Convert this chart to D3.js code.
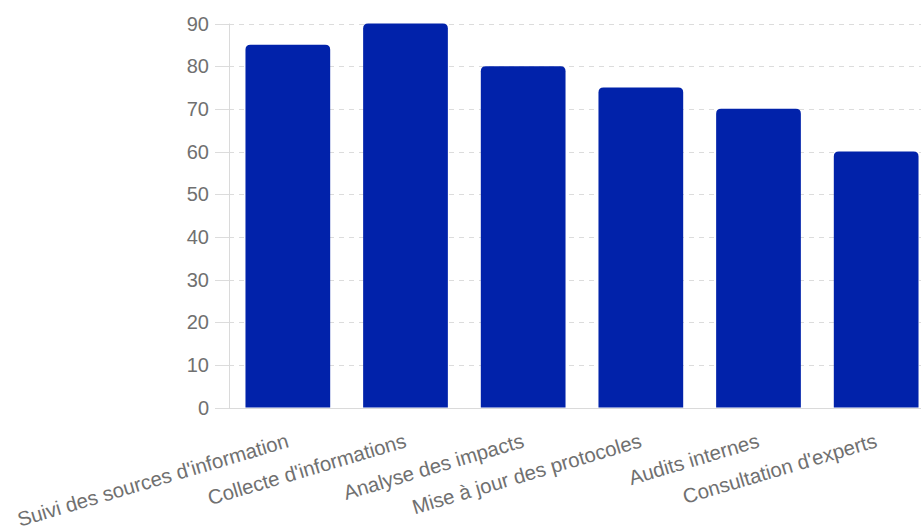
<!DOCTYPE html>
<html>
<head>
<meta charset="utf-8">
<script src="https://cdn.jsdelivr.net/npm/d3@7"></script>
<style>
  html, body { margin: 0; padding: 0; background: #fff; overflow: hidden; }
  svg { display: block; font-family: "Liberation Sans", Arial, Helvetica, sans-serif; }
</style>
</head>
<body>
<svg id="chart" width="921" height="530"></svg>
<script>
const categories = [
  "Suivi des sources d'information",
  "Collecte d'informations",
  "Analyse des impacts",
  "Mise à jour des protocoles",
  "Audits internes",
  "Consultation d'experts"
];
const values = [85, 90, 80, 75, 70, 60];
const yTicks = [0, 10, 20, 30, 40, 50, 60, 70, 80, 90];

const svg = d3.select("#chart");
const mLeft = 229, mRight = 935, mTop = 23.5, mBottom = 407.5;

const x = d3.scaleBand().domain(categories).range([mLeft, mRight]).paddingInner(0).paddingOuter(0);
const y = d3.scaleLinear().domain([0, 90]).range([mBottom, mTop]);

// grid lines (dashed)
svg.append("g").selectAll("line").data(yTicks.filter(d => d !== 0)).join("line")
  .attr("x1", mLeft).attr("x2", 921)
  .attr("y1", d => Math.round(y(d)) + 0.5).attr("y2", d => Math.round(y(d)) + 0.5)
  .attr("stroke", "#dcdcdc").attr("stroke-width", 1).attr("stroke-dasharray", "5,5");

// tick marks (solid)
svg.append("g").selectAll("line").data(yTicks).join("line")
  .attr("x1", 215).attr("x2", mLeft)
  .attr("y1", d => Math.round(y(d)) + 0.5).attr("y2", d => Math.round(y(d)) + 0.5)
  .attr("stroke", "#dcdcdc").attr("stroke-width", 1);

// axis lines
svg.append("line").attr("x1", mLeft + 0.5).attr("x2", mLeft + 0.5)
  .attr("y1", mTop).attr("y2", mBottom + 0.5).attr("stroke", "#dadada");
svg.append("line").attr("x1", mLeft).attr("x2", 921)
  .attr("y1", Math.round(mBottom) + 0.5).attr("y2", Math.round(mBottom) + 0.5).attr("stroke", "#dadada");

// y tick labels
svg.append("g").selectAll("text").data(yTicks).join("text")
  .attr("x", 209).attr("y", d => y(d))
  .attr("dy", "0.35em")
  .attr("text-anchor", "end")
  .attr("fill", "#707070")
  .attr("font-size", 20)
  .text(d => d);

// bars with rounded top corners
const bw = x.bandwidth() * 0.72;
const r = 5;
svg.append("g").selectAll("path").data(categories).join("path")
  .attr("d", (c, i) => {
    const cx = x(c) + x.bandwidth() / 2;
    const x0 = cx - bw / 2, x1 = cx + bw / 2;
    const y0 = y(values[i]), y1 = y(0);
    return `M${x0},${y1} L${x0},${y0 + r} Q${x0},${y0} ${x0 + r},${y0} L${x1 - r},${y0} Q${x1},${y0} ${x1},${y0 + r} L${x1},${y1} Z`;
  })
  .attr("fill", "#0122AA");

// x labels rotated
svg.append("g").selectAll("text").data(categories).join("text")
  .attr("transform", c => `translate(${x(c) + x.bandwidth() / 2},${440}) rotate(-16.5)`)
  .attr("text-anchor", "end")
  .attr("dy", "0.35em")
  .attr("fill", "#707070")
  .attr("font-size", 20.4)
  .text(c => c);
</script>
</body>
</html>
